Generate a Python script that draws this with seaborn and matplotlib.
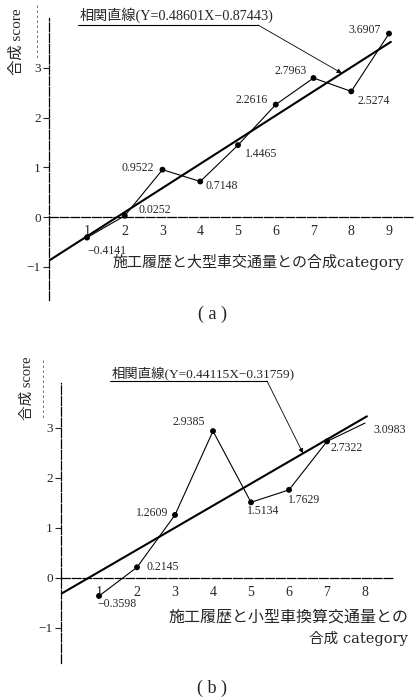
import numpy as np
import matplotlib
matplotlib.use("Agg")
import matplotlib.pyplot as plt
from matplotlib.lines import Line2D
import seaborn as sns

# (a) 施工履歴と大型車交通量との合成category
cat_a = [1, 2, 3, 4, 5, 6, 7, 8, 9]
score_a = [-0.4141, 0.0252, 0.9522, 0.7148, 1.4465, 2.2616, 2.7963, 2.5274, 3.6907]
slope_a, icept_a = 0.48601, -0.87443

# (b) 施工履歴と小型車換算交通量との合成category
cat_b = [1, 2, 3, 4, 5, 6, 7, 8]
score_b = [-0.3598, 0.2145, 1.2609, 2.9385, 1.5134, 1.7629, 2.7322, 3.0983]
slope_b, icept_b = 0.44115, -0.31759

yticks = [-1, 0, 1, 2, 3]

W, H = 420, 700
sns.set_theme(style="white")
plt.rcParams["font.family"] = ["Liberation Serif", "Noto Sans CJK JP"]
plt.rcParams["axes.unicode_minus"] = True

SERIF_CJK = ["DejaVu Serif", "Noto Sans CJK JP"]
NUM_CJK = ["Liberation Serif", "Noto Sans CJK JP"]

fig = plt.figure(figsize=(W / 100, H / 100), dpi=100)


def fmt(v):
    return f"{v:.4f}".replace("-", "\u2212")


def fpx(x, y):
    """figure pixel position measured from the top-left corner"""
    return (x, H - y)


def make_axes(left, right, top, bottom, x0px, y0px, sx, sy):
    ax = fig.add_axes([left / W, 1 - bottom / H, (right - left) / W, (bottom - top) / H])
    ax.set_xlim((left - x0px) / sx, (right - x0px) / sx)
    ax.set_ylim((y0px - bottom) / sy, (y0px - top) / sy)
    ax.patch.set_alpha(0)
    for s in ("top", "right"):
        ax.spines[s].set_visible(False)
    for s in ("left", "bottom"):
        ax.spines[s].set_linestyle((0, (7, 1.6)))
        ax.spines[s].set_linewidth(0.9)
        ax.spines[s].set_color("black")
    ax.spines["bottom"].set_position(("data", 0))
    ax.tick_params(axis="x", length=0, pad=5.5, labelsize=10)
    ax.tick_params(axis="y", direction="out", length=4, width=0.8, pad=2,
                   labelsize=9.5, left=True)
    ax.set_yticks(yticks)
    ax.set_yticklabels([str(t).replace("-", "\u2212") for t in yticks])
    ax.set_xlabel("")
    ax.set_ylabel("")
    return ax


def draw_panel(ax, cats, scores, slope, icept, x_end, marked, offsets):
    sns.lineplot(x=cats, y=scores, color="black", linewidth=0.8, ax=ax,
                 estimator=None, sort=False)
    sns.scatterplot(x=cats[:marked], y=scores[:marked], color="black", s=18,
                    edgecolor="none", ax=ax, zorder=5)
    xs = np.array([0.0, x_end])
    sns.lineplot(x=xs, y=slope * xs + icept, color="black", linewidth=1.5, ax=ax)
    for x, v, (dx, dy) in zip(cats, scores, offsets):
        ax.annotate(fmt(v), xy=(x, v), xytext=(dx, dy), textcoords="offset pixels",
                    ha="center", va="center", fontsize=8.5, family="Liberation Serif")
    ax.set_xticks(cats)
    ax.set_xticklabels([str(c) for c in cats])


def equation_callout(ax, slope, icept, text_xy, ul_from, ul_to, tip_x, size):
    label = f"相関直線(Y={slope:.5f}X\u2212{abs(icept):.5f})"
    fig.text(text_xy[0] / W, 1 - text_xy[1] / H, label, ha="left", va="center",
             fontsize=size, family=NUM_CJK)
    fig.add_artist(Line2D([ul_from[0] / W, ul_to[0] / W],
                          [1 - ul_from[1] / H, 1 - ul_to[1] / H],
                          color="black", lw=0.8, transform=fig.transFigure))
    ax.annotate("", xy=(tip_x, slope * tip_x + icept), xycoords="data",
                xytext=fpx(*ul_to), textcoords="figure pixels",
                arrowprops=dict(arrowstyle="-|>", lw=0.6, color="black",
                                shrinkA=0, shrinkB=0, mutation_scale=7))


# ---------------- panel (a) ----------------
ax_a = make_axes(49.25, 414, 18, 300, 49.25, 217, 37.75, 49.7)
offs_a = [(20, -13), (30, 6), (-25, 2), (22, -5), (23, -9),
          (-24, 5), (-23, 7), (22, -10), (-24, 4)]
draw_panel(ax_a, cat_a, score_a, slope_a, icept_a, 9.05, len(cat_a), offs_a)
equation_callout(ax_a, slope_a, icept_a, (80, 15), (78, 25), (258, 25), 7.75, 10.2)
fig.text(113 / W, 1 - 262 / H, "施工履歴と大型車交通量との合成category",
         ha="left", va="center", fontsize=10.8, family=SERIF_CJK)
fig.text(17 / W, 1 - 42 / H, "合成 score", rotation=90, ha="center", va="center",
         fontsize=11, family=NUM_CJK)
fig.add_artist(Line2D([37 / W, 37 / W], [1 - 5 / H, 1 - 58 / H], color="0.35",
                      lw=0.6, ls=(0, (3, 3)), transform=fig.transFigure))
fig.text(212 / W, 1 - 314 / H, "( a )", ha="center", va="center",
         fontsize=13, family="Liberation Serif")

# ---------------- panel (b) ----------------
ax_b = make_axes(61, 394, 383, 663, 61, 578, 38, 50)
offs_b = [(18, -8), (26, 0), (-23, 2), (-24, 9), (12, -9),
          (15, -10), (20, -7), (25, -7)]
draw_panel(ax_b, cat_b, score_b, slope_b, icept_b, 8.05, len(cat_b) - 1, offs_b)
equation_callout(ax_b, slope_b, icept_b, (112, 373), (110, 381), (267, 381), 6.37, 9.6)
fig.text(408 / W, 1 - 617 / H, "施工履歴と小型車換算交通量との",
         ha="right", va="center", fontsize=11.5, family=["Noto Sans CJK JP"])
fig.text(408 / W, 1 - 638 / H, "合成 category",
         ha="right", va="center", fontsize=10.5, family=SERIF_CJK)
fig.text(27 / W, 1 - 388 / H, "合成 score", rotation=90, ha="center", va="center",
         fontsize=10.5, family=NUM_CJK)
fig.add_artist(Line2D([43 / W, 43 / W], [1 - 360 / H, 1 - 418 / H], color="0.35",
                      lw=0.6, ls=(0, (3, 3)), transform=fig.transFigure))
fig.text(212 / W, 1 - 688 / H, "( b )", ha="center", va="center",
         fontsize=13, family="Liberation Serif")

fig.savefig("out.png", dpi=100, facecolor="white")
